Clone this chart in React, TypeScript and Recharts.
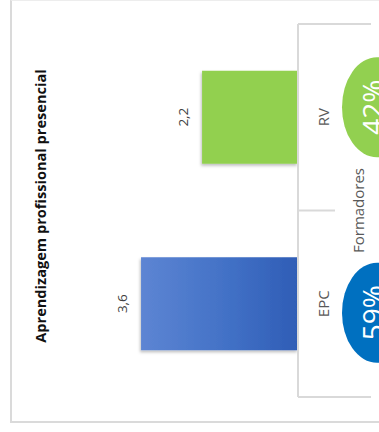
import React from "react";
import { BarChart, Bar, XAxis, YAxis, Cell, LabelList, Customized } from "recharts";

// categories top -> bottom (the chart is drawn turned on its side)
const categories = ["RV", "EPC"];
const averages = [2.2, 3.6];
const shares = [42, 59];
const groupLabel = "Formadores";
const title = "Aprendizagem profissional presencial";

const barFills = ["#92D050", "url(#epcGrad)"];
const badgeFills = ["#92D050", "#0070C0"];

const data = categories.map((name, i) => ({ name, value: averages[i], share: shares[i] }));

const W = 379;
const H = 432;
const MARGIN = { top: 24, right: 0, bottom: 35, left: 80 };
const AXIS_W = 81;
const FONT = "'Open Sans', sans-serif";
const BAND_HALF = (H - MARGIN.top - MARGIN.bottom) / categories.length / 2;

const fmt = (v: number) => String(v).replace(".", ",");

function ValueLabel(props: any) {
  const { x, y, width, height, value } = props;
  const left = Math.min(x, x + width);
  const cx = left - 19;
  const cy = y + height / 2;
  return (
    <text
      x={cx}
      y={cy}
      transform={`rotate(-90 ${cx} ${cy})`}
      textAnchor="middle"
      dominantBaseline="central"
      fontFamily={FONT}
      fontSize={13.5}
      fill="#404040"
    >
      {fmt(value)}
    </text>
  );
}

function CategoryTick(props: any) {
  const { x, y, payload } = props;
  const i = categories.indexOf(payload.value);
  const last = i === categories.length - 1;
  const lx = x + 25;
  const shift = i === 0 ? -10 : 9;
  const bx = x + 79;
  const by = y + shift;
  return (
    <g>
      {i === 0 && (
        <line x1={x} x2={x + 73} y1={y - BAND_HALF} y2={y - BAND_HALF} stroke="#d9d9d9" strokeWidth={2} />
      )}
      <line
        x1={x}
        x2={x + (last ? 73 : 37)}
        y1={y + BAND_HALF}
        y2={y + BAND_HALF}
        stroke="#d9d9d9"
        strokeWidth={2}
      />
      <text
        x={lx}
        y={y}
        transform={`rotate(-90 ${lx} ${y})`}
        textAnchor="middle"
        dominantBaseline="central"
        fontFamily={FONT}
        fontSize={15}
        fill="#595959"
      >
        {payload.value}
      </text>
      <ellipse cx={bx} cy={by} rx={35} ry={50} fill={badgeFills[i]} />
      <text
        x={bx - 5}
        y={by}
        transform={`rotate(-90 ${bx - 5} ${by})`}
        textAnchor="middle"
        dominantBaseline="central"
        fontFamily={FONT}
        fontSize={28}
        fill="#ffffff"
      >
        {shares[i]}%
      </text>
    </g>
  );
}

function Extras() {
  const gy = MARGIN.top + BAND_HALF * categories.length;
  const gx = 358;
  const tx = 40;
  const ty = 206;
  return (
    <g>
      <defs>
        <linearGradient id="epcGrad" x1="0" y1="0" x2="1" y2="0">
          <stop offset="0%" stopColor="#5d85d3" />
          <stop offset="55%" stopColor="#4271c6" />
          <stop offset="100%" stopColor="#2f5db6" />
        </linearGradient>
        <filter id="barShadow" x="-10%" y="-10%" width="120%" height="130%">
          <feDropShadow dx={-1} dy={2} stdDeviation={1.5} floodColor="#000" floodOpacity={0.25} />
        </filter>
      </defs>
      <text
        x={tx}
        y={ty}
        transform={`rotate(-90 ${tx} ${ty})`}
        textAnchor="middle"
        dominantBaseline="central"
        fontFamily={FONT}
        fontWeight={700}
        fontSize={14.6}
        fill="#111"
      >
        {title}
      </text>
      <text
        x={gx}
        y={gy}
        transform={`rotate(-90 ${gx} ${gy})`}
        textAnchor="middle"
        dominantBaseline="central"
        fontFamily={FONT}
        fontSize={15}
        fill="#595959"
      >
        {groupLabel}
      </text>
    </g>
  );
}

export default function App() {
  return (
    <div style={{ position: "absolute", left: 0, top: 0, width: W, height: H, overflow: "hidden", background: "#fff" }}>
      <div
        style={{
          position: "absolute",
          left: 10,
          top: 0,
          width: 420,
          height: 423,
          boxSizing: "border-box",
          borderLeft: "2px solid #dadada",
          borderBottom: "2px solid #dadada",
          borderTop: "1px solid #ededed",
        }}
      />
      <div style={{ position: "absolute", left: 0, top: 0 }}>
        <BarChart width={W} height={H} data={data} layout="vertical" margin={MARGIN} barCategoryGap="25%">
          <Customized component={Extras} />
          <XAxis type="number" domain={[0, 5]} reversed hide />
          <YAxis
            type="category"
            dataKey="name"
            orientation="right"
            width={AXIS_W}
            axisLine={{ stroke: "#d9d9d9", strokeWidth: 2 }}
            tickLine={false}
            tickSize={0}
            tickMargin={0}
            tick={<CategoryTick />}
            interval={0}
          />
          <Bar dataKey="value" isAnimationActive={false}>
            {data.map((d, i) => (
              <Cell key={d.name} fill={barFills[i]} filter="url(#barShadow)" />
            ))}
            <LabelList dataKey="value" content={<ValueLabel />} />
          </Bar>
        </BarChart>
      </div>
    </div>
  );
}
